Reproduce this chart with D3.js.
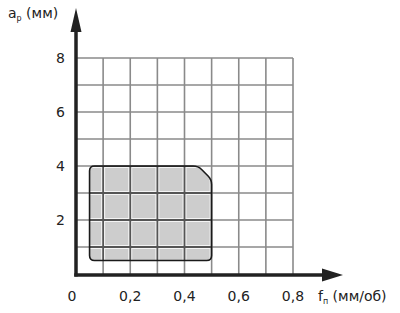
<!DOCTYPE html>
<html>
<head>
<meta charset="utf-8">
<script src="https://cdn.jsdelivr.net/npm/d3@7"></script>
<style>
  body { margin: 0; background: #fff; }
  text { font-family: Verdana, "DejaVu Sans", sans-serif; fill: #222; }
</style>
</head>
<body>
<div id="chart"></div>
<script>
// tick labels
const xTicks = [0, 0.2, 0.4, 0.6, 0.8];
const yTicks = [2, 4, 6, 8];
const xGrid = [0.1, 0.2, 0.3, 0.4, 0.5, 0.6, 0.7, 0.8];
const yGrid = [1, 2, 3, 4, 5, 6, 7, 8];

// working area outline (feed, depth)
const areaFeed = [0.05, 0.05, 0.45, 0.5, 0.5];
const areaDepth = [0.5, 4, 4, 3.5, 0.5];

const svgWidth = 400;
const svgHeight = 313;

const svg = d3.select('#chart')
    .append('svg')
    .attr('width', svgWidth)
    .attr('height', svgHeight);

const x = d3.scaleLinear().domain([0, 0.8]).range([76, 293]);
const y = d3.scaleLinear().domain([0, 8]).range([274, 58]);

// build rounded path for the area
const pts = areaFeed.map((f, i) => [x(f), y(areaDepth[i])]);
function roundedPath(points, r) {
    const n = points.length;
    let d = '';
    for (let i = 0; i < n; i++) {
        const p0 = points[(i - 1 + n) % n];
        const p1 = points[i];
        const p2 = points[(i + 1) % n];
        const l1 = Math.hypot(p0[0] - p1[0], p0[1] - p1[1]);
        const l2 = Math.hypot(p2[0] - p1[0], p2[1] - p1[1]);
        const rr = Math.min(r, l1 / 2, l2 / 2);
        const a = [p1[0] + (p0[0] - p1[0]) * rr / l1, p1[1] + (p0[1] - p1[1]) * rr / l1];
        const b = [p1[0] + (p2[0] - p1[0]) * rr / l2, p1[1] + (p2[1] - p1[1]) * rr / l2];
        d += (i === 0 ? 'M' : 'L') + a[0] + ',' + a[1];
        d += 'Q' + p1[0] + ',' + p1[1] + ' ' + b[0] + ',' + b[1];
    }
    return d + 'Z';
}
const areaD = roundedPath(pts, 5);

svg.append('clipPath').attr('id', 'areaClip')
    .append('path').attr('d', areaD);

// grid outside
const grid = svg.append('g');
grid.selectAll('.vg').data(xGrid).enter().append('line')
    .attr('x1', d => x(d)).attr('x2', d => x(d))
    .attr('y1', y(8)).attr('y2', y(0))
    .attr('stroke', '#8a8a8a').attr('stroke-width', 1.6);
grid.selectAll('.hg').data(yGrid).enter().append('line')
    .attr('x1', x(0)).attr('x2', x(0.8))
    .attr('y1', d => y(d)).attr('y2', d => y(d))
    .attr('stroke', '#8a8a8a').attr('stroke-width', 1.6);

// shaded area
svg.append('path').attr('d', areaD).attr('fill', '#cdcdcd');

// grid inside area
const inner = svg.append('g').attr('clip-path', 'url(#areaClip)');
[['#f4f4f4', 4], ['#555', 1.8]].forEach(([c, w]) => {
    inner.selectAll(null).data(xGrid).enter().append('line')
        .attr('x1', d => x(d)).attr('x2', d => x(d))
        .attr('y1', y(8)).attr('y2', y(0))
        .attr('stroke', c).attr('stroke-width', w);
    inner.selectAll(null).data(yGrid).enter().append('line')
        .attr('x1', x(0)).attr('x2', x(0.8))
        .attr('y1', d => y(d)).attr('y2', d => y(d))
        .attr('stroke', c).attr('stroke-width', w);
});

svg.append('path').attr('d', areaD)
    .attr('fill', 'none').attr('stroke', '#1a1a1a').attr('stroke-width', 1.6);

// axes with arrows
svg.append('line')
    .attr('x1', x(0)).attr('x2', x(0))
    .attr('y1', y(0) + 2.5).attr('y2', 30)
    .attr('stroke', '#222').attr('stroke-width', 3.5);
svg.append('path')
    .attr('d', `M${x(0)},8 L${x(0) + 5.5},32 L${x(0) - 5.5},32 Z`)
    .attr('fill', '#222');

svg.append('line')
    .attr('x1', x(0) - 1.75).attr('x2', 324)
    .attr('y1', y(0) + 1).attr('y2', y(0) + 1)
    .attr('stroke', '#222').attr('stroke-width', 3.5);
svg.append('path')
    .attr('d', `M343,${y(0) + 1} L322,${y(0) - 5.5} L322,${y(0) + 7.5} Z`)
    .attr('fill', '#222');

// tick labels
svg.selectAll('.yl').data(yTicks).enter().append('text')
    .attr('x', 65).attr('y', d => y(d) + 5)
    .attr('text-anchor', 'end')
    .attr('font-size', 14)
    .text(d => d);

svg.selectAll('.xl').data(xTicks).enter().append('text')
    .attr('x', d => d === 0 ? x(d) - 4 : x(d))
    .attr('y', 301)
    .attr('text-anchor', 'middle')
    .attr('font-size', 14)
    .text(d => d === 0 ? '0' : String(d).replace('.', ','));

// axis titles
const yt = svg.append('text').attr('x', 8).attr('y', 18).attr('font-size', 14);
yt.append('tspan').text('a');
yt.append('tspan').attr('font-size', 8).attr('dy', 3).text('p');
yt.append('tspan').attr('dy', -3).text(' (мм)');

const xt = svg.append('text').attr('x', 318).attr('y', 301).attr('font-size', 14);
xt.append('tspan').text('f');
xt.append('tspan').attr('font-size', 8).attr('dy', 3).text('п');
xt.append('tspan').attr('dy', -3).text(' (мм/об)');
</script>
</body>
</html>
